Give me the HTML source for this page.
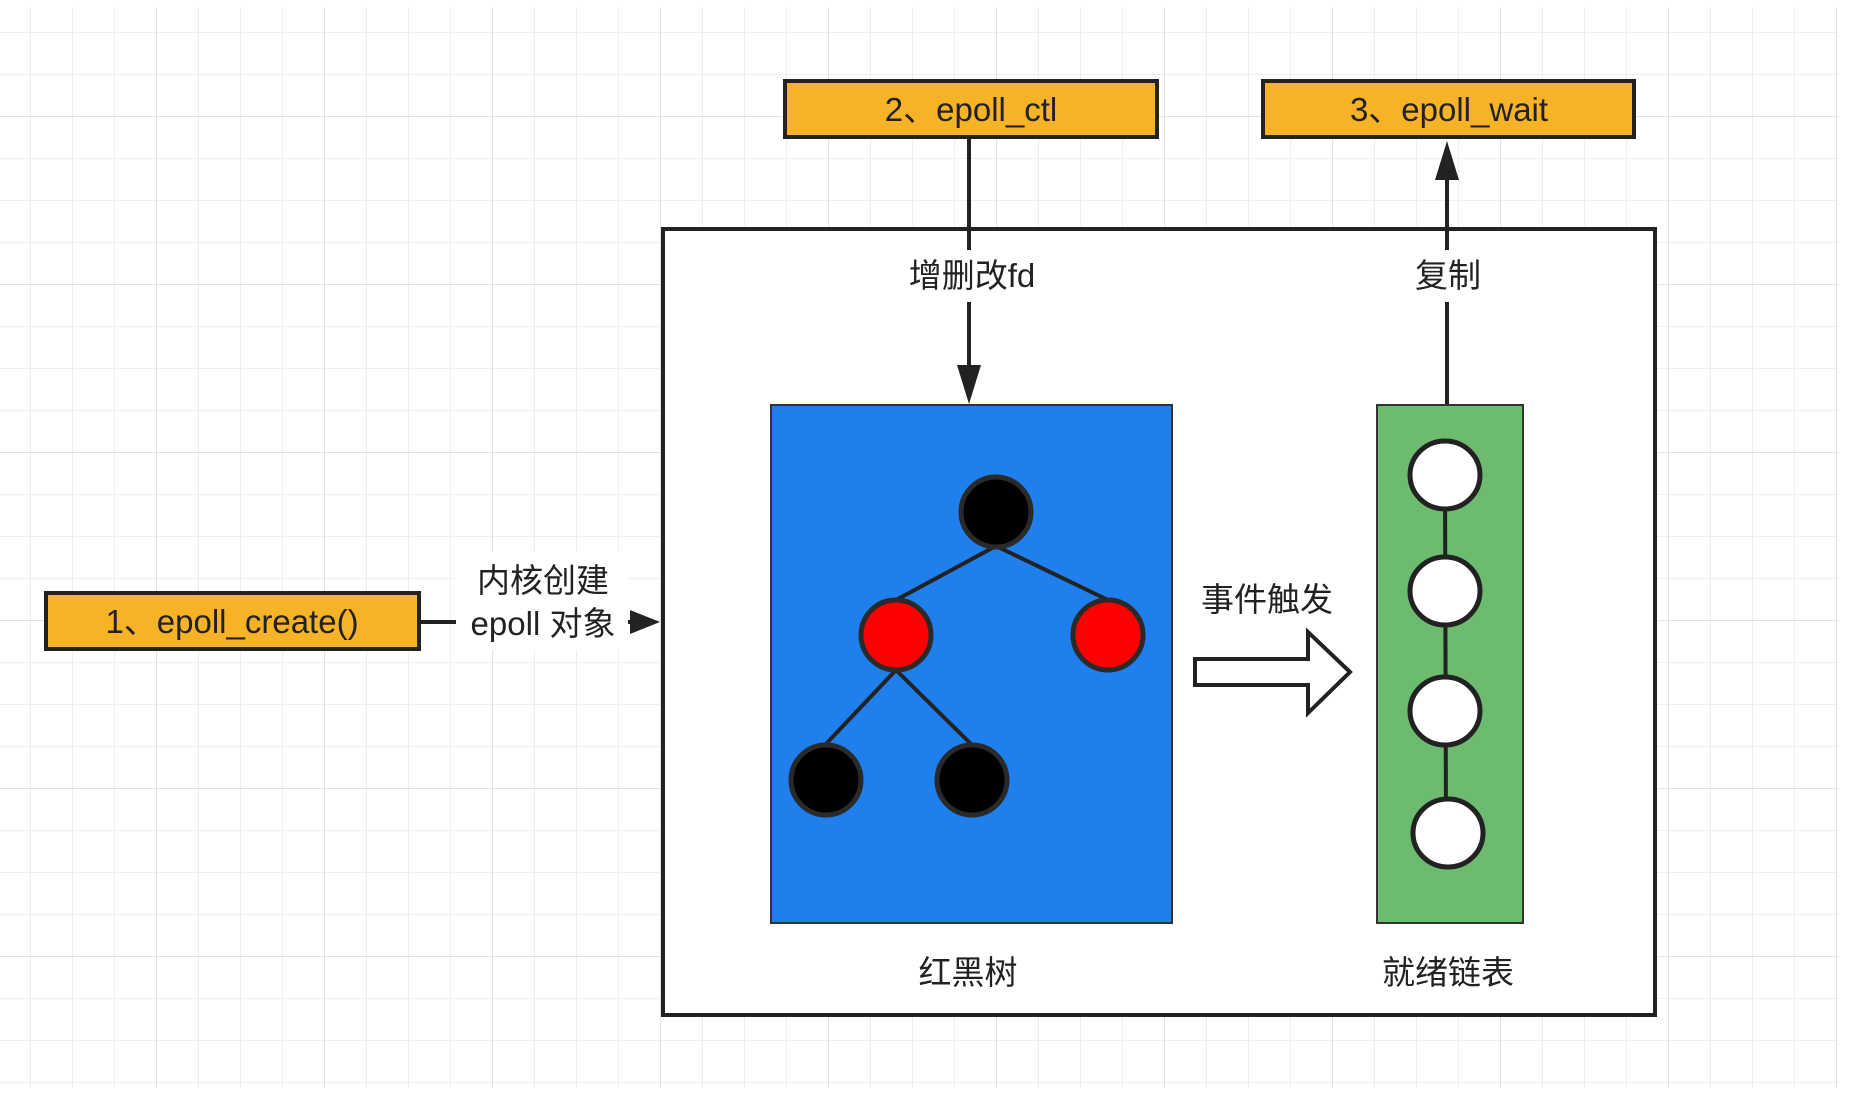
<!DOCTYPE html>
<html><head><meta charset="utf-8"><style>
html,body{margin:0;padding:0;background:#fff;}
svg{display:block;}
text{font-family:"Liberation Sans","Noto Sans CJK SC",sans-serif;fill:#222;}
</style></head><body>
<svg width="1870" height="1112" viewBox="0 0 1870 1112" xmlns="http://www.w3.org/2000/svg">
<defs>
<pattern id="g" x="30" y="32" width="42" height="42" patternUnits="userSpaceOnUse">
<path d="M0 0V42M0 0H42" stroke="#eeeeee" stroke-width="2" fill="none"/>
</pattern>
<pattern id="G" x="156" y="116" width="168" height="168" patternUnits="userSpaceOnUse">
<path d="M0 0V168M0 0H168" stroke="#e2e2e2" stroke-width="2" fill="none"/>
</pattern>
</defs>
<rect x="0" y="7" width="1838" height="1081" fill="url(#g)"/>
<rect x="0" y="7" width="1838" height="1081" fill="url(#G)"/>

<rect x="663" y="229" width="992" height="786" fill="#fff" stroke="#222" stroke-width="4"/>

<rect x="46" y="593" width="373" height="56" fill="#f6b327" stroke="#222" stroke-width="4"/>
<text x="232" y="633" font-size="33" text-anchor="middle">1、epoll_create()</text>
<line x1="419" y1="622" x2="632" y2="622" stroke="#222" stroke-width="4"/>
<rect x="456" y="552" width="172" height="98" fill="#fff"/>
<text x="543" y="592" font-size="33" text-anchor="middle">内核创建</text>
<text x="543" y="635" font-size="33" text-anchor="middle">epoll 对象</text>
<polygon points="630,610 660,622 630,634" fill="#222"/>

<rect x="785" y="81" width="372" height="56" fill="#f6b327" stroke="#222" stroke-width="4"/>
<text x="971" y="121" font-size="33" text-anchor="middle">2、epoll_ctl</text>
<line x1="969" y1="137" x2="969" y2="370" stroke="#222" stroke-width="4"/>
<rect x="892" y="250" width="156" height="52" fill="#fff"/>
<text x="972" y="287" font-size="33" text-anchor="middle">增删改fd</text>
<polygon points="957,365 981,365 969,404" fill="#222"/>

<rect x="1263" y="81" width="371" height="56" fill="#f6b327" stroke="#222" stroke-width="4"/>
<text x="1449" y="121" font-size="33" text-anchor="middle">3、epoll_wait</text>
<line x1="1447" y1="175" x2="1447" y2="405" stroke="#222" stroke-width="4"/>
<rect x="1403" y="250" width="90" height="52" fill="#fff"/>
<text x="1448" y="287" font-size="33" text-anchor="middle">复制</text>
<polygon points="1435,180 1459,180 1447,141" fill="#222"/>

<rect x="771" y="405" width="401" height="518" fill="#1f7fec" stroke="#333" stroke-width="2"/>
<g stroke="#222" stroke-width="4">
<line x1="996" y1="546" x2="896" y2="600"/>
<line x1="996" y1="546" x2="1108" y2="600"/>
<line x1="896" y1="670" x2="825" y2="745"/>
<line x1="896" y1="670" x2="972" y2="745"/>
</g>
<g stroke="#2a2a2a" stroke-width="5">
<ellipse cx="996" cy="512" rx="35" ry="35" fill="#000"/>
<ellipse cx="896" cy="635" rx="35" ry="35" fill="#ff0000"/>
<ellipse cx="1108" cy="635" rx="35" ry="35" fill="#ff0000"/>
<ellipse cx="826" cy="780" rx="35" ry="35" fill="#000"/>
<ellipse cx="972" cy="780" rx="35" ry="35" fill="#000"/>
</g>
<text x="968" y="984" font-size="33" text-anchor="middle">红黑树</text>

<text x="1267" y="611" font-size="33" text-anchor="middle">事件触发</text>
<polygon points="1195,659 1308,659 1308,632 1350,672 1308,713 1308,685 1195,685" fill="#fff" stroke="#222" stroke-width="4"/>

<rect x="1377" y="405" width="146" height="518" fill="#6dbb6f" stroke="#333" stroke-width="2"/>
<line x1="1445" y1="475" x2="1446" y2="833" stroke="#222" stroke-width="4"/>
<g stroke="#222" stroke-width="5" fill="#fff">
<ellipse cx="1445" cy="475" rx="35" ry="34"/>
<ellipse cx="1445" cy="591" rx="35" ry="34"/>
<ellipse cx="1445" cy="711" rx="35" ry="34"/>
<ellipse cx="1448" cy="833" rx="35" ry="34"/>
</g>
<text x="1448" y="984" font-size="33" text-anchor="middle">就绪链表</text>
</svg>
</body></html>
